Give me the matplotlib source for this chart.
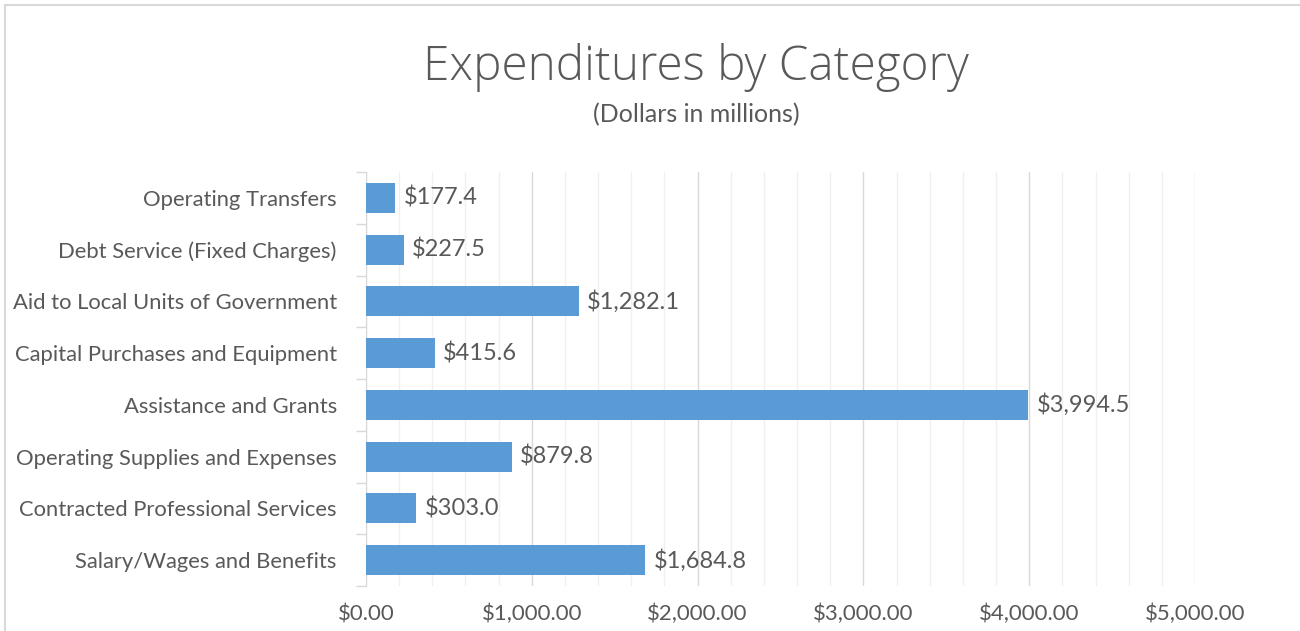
import matplotlib
matplotlib.use("Agg")
import matplotlib.pyplot as plt
from matplotlib.ticker import MultipleLocator, FuncFormatter
from matplotlib.patches import Rectangle

categories = [
    "Operating Transfers",
    "Debt Service (Fixed Charges)",
    "Aid to Local Units of Government",
    "Capital Purchases and Equipment",
    "Assistance and Grants",
    "Operating Supplies and Expenses",
    "Contracted Professional Services",
    "Salary/Wages and Benefits",
]
values = [177.4, 227.5, 1282.1, 415.6, 3994.5, 879.8, 303.0, 1684.8]
value_labels = ["$177.4", "$227.5", "$1,282.1", "$415.6", "$3,994.5", "$879.8", "$303.0", "$1,684.8"]

title = "Expenditures by Category"
subtitle = "(Dollars in millions)"

plt.rcParams['font.family'] = ['Lato', 'DejaVu Sans']
txt = "#595959"
bar_color = "#5B9BD5"

fig = plt.figure(figsize=(13, 6.31), dpi=100)
fig.patch.set_facecolor("white")
ax = fig.add_axes([366/1300, 1-586/631, (1195-366)/1300, (586-172)/631])

y = list(range(len(categories)))
ax.barh(y, values, height=0.58, color=bar_color, zorder=3)
for yi, v, lab in zip(y, values, value_labels):
    ax.annotate(lab, (v, yi), xytext=(6, 0), textcoords="offset points",
                va="center", ha="left", fontsize=17, color=txt)

ax.set_xlim(0, 5000)
ax.set_ylim(len(categories)-0.5, -0.5)
ax.set_yticks(y)
ax.set_yticklabels(categories, fontsize=15.8, color=txt)
ax.set_yticks([i - 0.5 for i in range(len(categories)+1)], minor=True)
ax.tick_params(axis='y', which='major', length=0, pad=21)
ax.tick_params(axis='y', which='minor', length=7, color="#d9d9d9", width=1)

ax.xaxis.set_major_locator(MultipleLocator(1000))
ax.xaxis.set_minor_locator(MultipleLocator(200))
ax.xaxis.set_major_formatter(FuncFormatter(lambda x, p: f"${x:,.2f}"))
ax.tick_params(axis='x', which='both', length=0, labelsize=16, labelcolor=txt, pad=13)
ax.grid(axis='x', which='major', color="#d9d9d9", linewidth=1, zorder=0)
ax.grid(axis='x', which='minor', color="#f0f0f0", linewidth=1, zorder=0)

for s in ["top", "right", "bottom"]:
    ax.spines[s].set_visible(False)
ax.spines["left"].set_color("#d9d9d9")
ax.set_axisbelow(True)

fig.text(696/1300, 1-67/631, title, ha="center", va="center", fontsize=34.3,
         color=txt, family=["Open Sans", "Lato", "DejaVu Sans"], fontweight=300)
fig.text(696/1300, 1-115/631, subtitle, ha="center", va="center", fontsize=18, color=txt)

# outer chart border (visible at top and left)
fig.patches.append(Rectangle((5/1300, -0.1), 1.2, 1-5/631+0.1, transform=fig.transFigure,
                             fill=False, edgecolor="#d9d9d9", linewidth=1.5))

fig.savefig("out.png", dpi=100)
